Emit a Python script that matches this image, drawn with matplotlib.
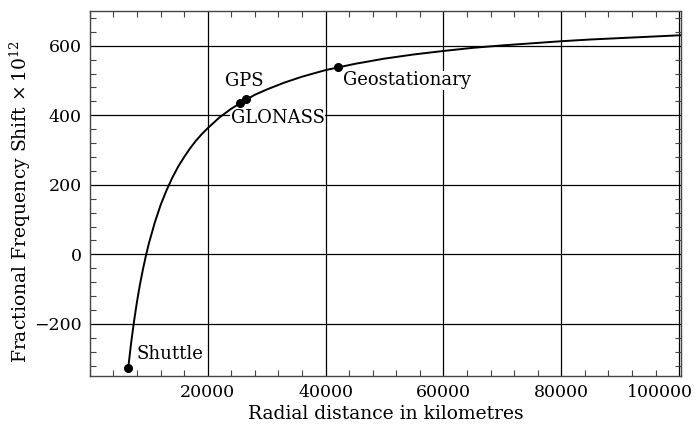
import matplotlib.pyplot as plt
import matplotlib.transforms as mtransforms
from matplotlib.ticker import MultipleLocator

plt.rcParams['font.family'] = ['DejaVu Serif']
plt.rcParams['font.size'] = 12.5
plt.rcParams['mathtext.fontset'] = 'dejavuserif'

# curve: radius (km) vs fractional shift x 1e12
radius = [6500, 7000, 7500, 8000, 8500, 9000, 9500, 10000, 11000, 12000,
          13000, 14000, 15000, 16000, 17000, 18000, 19000, 20000, 22000,
          24000, 26000, 28000, 30000, 33000, 36000, 40000, 45000, 50000,
          55000, 60000, 65000, 70000, 75000, 80000, 85000, 90000, 95000,
          100000, 101000]
shift = [-327, -254, -191, -135, -86, -43, -4, 31, 91, 142,
         184, 221, 253, 280, 305, 327, 346, 363, 394,
         419, 440, 459, 474, 494, 511, 530, 548, 563,
         575, 585, 594, 601, 607, 613, 618, 622, 626,
         630, 630]

# orbits marked on the curve
orbit_names = ['Shuttle', 'GLONASS', 'GPS', 'Geostationary']
orbit_r = [6500, 25510, 26560, 42160]
orbit_shift = [-327, 435, 446, 538]

fig = plt.figure(figsize=(6.97, 4.32), dpi=100)
ax = fig.add_axes([0.129, 0.1296, 0.848, 0.845])

ax.plot(radius, shift, color='black', lw=1.4, zorder=3)
ax.plot(orbit_r, orbit_shift, 'o', color='black', ms=5.5, zorder=4)

box = dict(facecolor='white', edgecolor='none', pad=0.3)
lab = dict(ha='left', va='center', fontsize=13, bbox=box, zorder=2.5)
ax.text(7950, -286, 'Shuttle', **lab)
ax.text(22850, 498, 'GPS', **lab)
ax.text(23900, 391, 'GLONASS', **lab)
ax.text(42900, 501, 'Geostationary', **lab)

ax.set_xlim(0, 100300)
ax.set_ylim(-350, 700)
ax.xaxis.set_major_locator(MultipleLocator(20000))
ax.xaxis.set_minor_locator(MultipleLocator(4000))
ax.yaxis.set_major_locator(MultipleLocator(200))
ax.yaxis.set_minor_locator(MultipleLocator(40))
ax.set_xticks([20000, 40000, 60000, 80000, 100000])
ax.set_yticks([-200, 0, 200, 400, 600])
ax.set_yticklabels(['\u2212200', '0', '200', '400', '600'])

ax.grid(True, which='major', color='black', lw=0.9)
ax.tick_params(which='both', direction='in', top=True, right=True, color='#444444')
ax.tick_params(which='major', length=0, pad=6)
ax.tick_params(which='minor', length=4, width=0.8)
for s in ax.spines.values():
    s.set_color('#444444')
    s.set_linewidth(1.0)

# last x label is pushed left to stay inside the picture
fig.canvas.draw()
last = ax.get_xticklabels()[-1]
last.set_transform(last.get_transform() +
                   mtransforms.ScaledTranslation(-0.19, 0, fig.dpi_scale_trans))

ax.set_xlabel('Radial distance in kilometres', fontsize=13.5)
ax.set_ylabel('Fractional Frequency Shift $\\times\\, 10^{12}$', fontsize=13.5)
ax.xaxis.set_label_coords(0.5, -0.079)
ax.yaxis.set_label_coords(-0.097, 0.477)

fig.savefig('out.png', dpi=100)
